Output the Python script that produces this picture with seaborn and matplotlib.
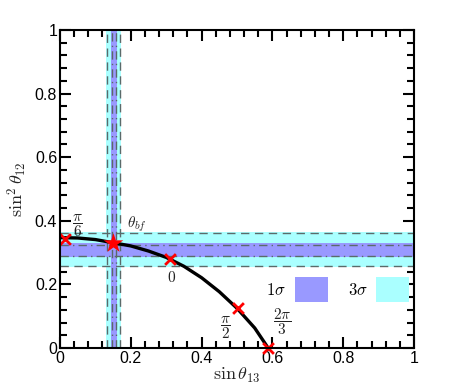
import numpy as np
import pandas as pd
import seaborn as sns
import matplotlib.pyplot as plt
from matplotlib.patches import Patch

# curve sin(theta13) vs sin^2(theta12)
curve_x = [0.0, 0.05, 0.1, 0.15, 0.2, 0.25, 0.3, 0.35, 0.4, 0.45, 0.5, 0.55, 0.588]
curve_y = [0.347, 0.346, 0.341, 0.331, 0.321, 0.305, 0.285, 0.257, 0.221, 0.177, 0.125, 0.063, 0.0]

# special points on the curve
mark_x = [0.014, 0.311, 0.502, 0.588]
mark_y = [0.343, 0.279, 0.125, 0.0]
mark_labels = [r"$\dfrac{\pi}{6}$", r"$0$", r"$\dfrac{\pi}{2}$", r"$\dfrac{2\pi}{3}$"]
label_x = [0.05, 0.316, 0.466, 0.628]
label_y = [0.384, 0.222, 0.065, 0.082]

# best fit
bf_x, bf_y = 0.151, 0.329

# bands on sin(theta13) and sin^2(theta12)
s13_3sig = [0.130, 0.172]
s13_1sig = [0.143, 0.161]
s13_3sig_lines = [0.132, 0.169]
s13_1sig_lines = [0.148, 0.157]
s12_3sig = [0.254, 0.366]
s12_1sig = [0.286, 0.330]
s12_3sig_lines = [0.258, 0.362]
s12_1sig_lines = [0.289, 0.324]

c1 = "#9999ff"
c3 = "#aaffff"
lc = "#5a6a6a"

sns.set_style("ticks", {"axes.edgecolor": "black", "xtick.color": "black", "ytick.color": "black",
                        "text.color": "black"})
plt.rcParams["mathtext.fontset"] = "cm"
plt.rcParams["font.family"] = ["Liberation Sans", "DejaVu Sans"]

fig = plt.figure(figsize=(4.59, 3.92), dpi=100)
ax = fig.add_axes([0.1307, 0.1122, 0.7713, 0.8113])

ax.axvspan(*s13_3sig, color=c3, lw=0, zorder=1)
ax.axhspan(*s12_3sig, color=c3, lw=0, zorder=1)
ax.axvspan(*s13_1sig, color=c1, lw=0, zorder=2)
ax.axhspan(*s12_1sig, color=c1, lw=0, zorder=2)
for v in s13_3sig_lines:
    ax.axvline(v, color=lc, lw=1, dashes=(6, 4), zorder=3)
for v in s13_1sig_lines:
    ax.axvline(v, color=lc, lw=1, dashes=(6, 3, 1, 3), zorder=3)
for v in s12_3sig_lines:
    ax.axhline(v, color=lc, lw=1, dashes=(6, 4), zorder=3)
for v in s12_1sig_lines:
    ax.axhline(v, color=lc, lw=1, dashes=(6, 3, 1, 3), zorder=3)

df = pd.DataFrame({"x": curve_x, "y": curve_y})
sns.lineplot(data=df, x="x", y="y", color="black", lw=2.4, sort=False, ax=ax, zorder=4)
sns.scatterplot(x=mark_x, y=mark_y, marker="x", color="red", s=60, linewidth=2, ax=ax, zorder=5, clip_on=False)
sns.scatterplot(x=[bf_x], y=[bf_y], marker="*", color="red", s=220, linewidth=0, ax=ax, zorder=5)

for lx, ly, t in zip(label_x, label_y, mark_labels):
    ax.text(lx, ly, t, fontsize=11, ha="center", va="center", color="#222222")
ax.text(0.218, 0.39, r"$\theta_{bf}$", fontsize=11, ha="center", va="center", color="#222222")

ax.set_xlim(0, 1)
ax.set_ylim(0, 1)
ax.set_xticks([0, 0.2, 0.4, 0.6, 0.8, 1], ["0", "0.2", "0.4", "0.6", "0.8", "1"])
ax.set_yticks([0, 0.2, 0.4, 0.6, 0.8, 1], ["0", "0.2", "0.4", "0.6", "0.8", "1"])
ax.set_xticks(np.arange(0, 1.001, 0.04), minor=True)
ax.set_yticks(np.arange(0, 1.001, 0.04), minor=True)
ax.tick_params(which="both", direction="in", top=True, right=True, width=1.5, labelsize=11.5, pad=2)
ax.tick_params(which="major", length=8)
ax.tick_params(which="minor", length=5)
for sp in ax.spines.values():
    sp.set_linewidth(1.5)
    sp.set_zorder(10)

ax.set_xlabel(r"$\sin\theta_{13}$", fontsize=13, labelpad=0)
ax.set_ylabel(r"$\sin^2\theta_{12}$", fontsize=13, labelpad=4)

handles = [Patch(facecolor=c1, edgecolor="none"), Patch(facecolor=c3, edgecolor="none")]
ax.legend(handles, [r"$1\sigma$", r"$3\sigma$"], ncol=2, markerfirst=False, frameon=False,
          fontsize=12, handlelength=2.0, handleheight=1.9, columnspacing=1.2, handletextpad=0.5,
          loc="center", bbox_to_anchor=(0.785, 0.185))

fig.savefig("out.png", dpi=100)
